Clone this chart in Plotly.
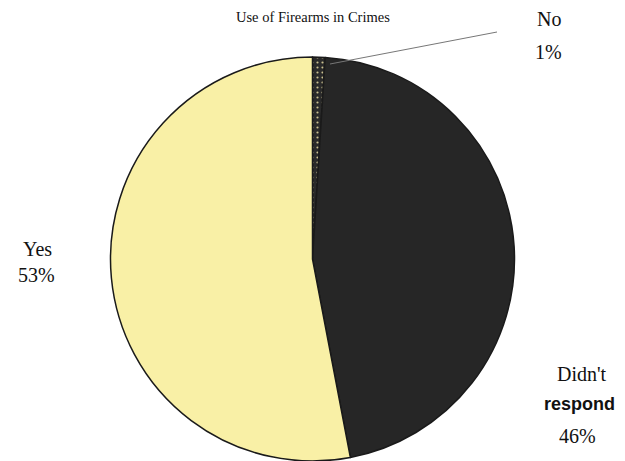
import plotly.graph_objects as go

# Survey responses, listed clockwise from 12 o'clock
labels = ["No", "Didn't respond", "Yes"]
values = [1, 46, 53]
colors = ["#2a2a2a", "#262626", "#f9f0a6"]

W, H = 625, 461

fig = go.Figure(
    go.Pie(
        labels=labels,
        values=values,
        sort=False,
        direction="clockwise",
        rotation=0,
        textinfo="none",
        hoverinfo="label+percent",
        marker=dict(
            colors=colors,
            line=dict(color="#1a1a1a", width=1.5),
            pattern=dict(
                shape=[".", "", ""],
                fgcolor=["#c9bf8e", "#262626", "#f9f0a6"],
                bgcolor=["#2a2a2a", "#262626", "#f9f0a6"],
                size=5,
                solidity=0.15,
            ),
        ),
        domain=dict(x=[109.5 / W, 515.5 / W], y=[0.0, 1 - 57 / H]),
        showlegend=False,
    )
)

serif = "Liberation Serif, DejaVu Serif, serif"
sans = "Liberation Sans, Arial, sans-serif"


def px(x, y):
    return x / W, 1 - y / H


annotations = []


def add_text(text, x, y, size, family, bold=False):
    ax, ay = px(x, y)
    annotations.append(
        dict(
            text=f"<b>{text}</b>" if bold else text,
            x=ax, y=ay, xref="paper", yref="paper",
            xanchor="center", yanchor="middle",
            showarrow=False,
            font=dict(family=family, size=size, color="#111111"),
        )
    )


add_text("Use of Firearms in Crimes", 313, 17, 14.5, serif)
add_text("Yes", 37, 249, 20, serif)
add_text("53%", 36, 275, 20, serif)
add_text("No", 549, 19, 20, serif)
add_text("1%", 548, 52, 20, serif)
add_text("Didn't", 582, 374, 20, serif)
add_text("respond", 579, 404, 18, sans, bold=True)
add_text("46%", 577, 436, 20, serif)

x0, y0 = px(330, 64)
x1, y1 = px(497, 32)

fig.update_layout(
    width=W,
    height=H,
    margin=dict(l=0, r=0, t=0, b=0),
    paper_bgcolor="white",
    plot_bgcolor="white",
    annotations=annotations,
    shapes=[
        dict(
            type="line", xref="paper", yref="paper",
            x0=x0, y0=y0, x1=x1, y1=y1,
            line=dict(color="#777777", width=1),
        )
    ],
)

fig.write_html("out.html")
